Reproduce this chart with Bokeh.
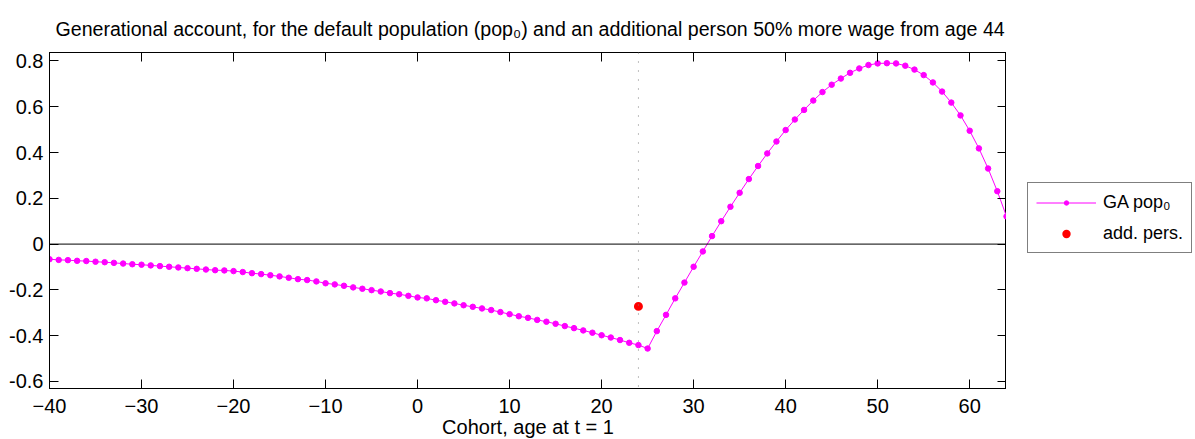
from bokeh.plotting import figure
from bokeh.layouts import row
from bokeh.models import Range1d, FixedTicker, LinearAxis, Span, Legend, LegendItem, Title
from bokeh.embed import file_html
from bokeh.resources import INLINE

# ---------------- data ----------------
cohorts = list(range(-40, 65))
ga_pop0 = [
    -0.066, -0.069, -0.070, -0.073, -0.074, -0.077, -0.079, -0.082, -0.085, -0.088,
    -0.090, -0.093, -0.096, -0.099, -0.102, -0.105, -0.108, -0.111, -0.114, -0.115,
    -0.118, -0.122, -0.127, -0.131, -0.136, -0.141, -0.147, -0.153, -0.157, -0.163,
    -0.171, -0.176, -0.182, -0.189, -0.195, -0.201, -0.207, -0.214, -0.219, -0.226,
    -0.233, -0.237, -0.245, -0.252, -0.259, -0.267, -0.274, -0.281, -0.288, -0.297,
    -0.306, -0.315, -0.322, -0.331, -0.339, -0.348, -0.358, -0.367, -0.377, -0.387,
    -0.398, -0.408, -0.419, -0.431, -0.441, -0.456, -0.380, -0.309, -0.237, -0.168,
    -0.099, -0.032, 0.035, 0.100, 0.163, 0.224, 0.284, 0.341, 0.396, 0.448,
    0.498, 0.544, 0.586, 0.627, 0.664, 0.696, 0.723, 0.748, 0.767, 0.782,
    0.789, 0.790, 0.789, 0.779, 0.762, 0.738, 0.706, 0.666, 0.618, 0.562,
    0.495, 0.418, 0.330, 0.231, 0.121,
]
add_pers_x = [24]
add_pers_y = [-0.272]
marker_cohort = 24

x_ticks = [-40, -30, -20, -10, 0, 10, 20, 30, 40, 50, 60]
x_tick_labels = ["\u221240", "\u221230", "\u221220", "\u221210", "0", "10", "20", "30", "40", "50", "60"]
y_ticks = [-0.6, -0.4, -0.2, 0, 0.2, 0.4, 0.6, 0.8]
y_tick_labels = ["-0.6", "-0.4", "-0.2", "0", "0.2", "0.4", "0.6", "0.8"]

title_text = ("Generational account, for the default population (pop\u2080) "
              "and an additional person 50% more wage from age 44")
x_label = "Cohort, age at t = 1"
legend_labels = ["GA pop\u2080", "add. pers."]

FONT = "Liberation Sans"
MAGENTA = "#ff00ff"
RED = "#ff0000"

p = figure(frame_width=957, frame_height=336, output_backend="svg", toolbar_location=None,
           x_range=Range1d(-40, 64), y_range=Range1d(-0.6306, 0.8367), title=None,
           min_border_left=49, min_border_right=0, min_border_top=52,
           min_border_bottom=48)
p.background_fill_color = "white"
p.border_fill_color = "white"
p.grid.visible = False
p.outline_line_color = "black"
p.outline_line_width = 1
p.outline_line_alpha = 1

def style_axis(ax, ticks, overrides, show_labels):
    ax.ticker = FixedTicker(ticks=ticks)
    ax.major_label_overrides = {t: l for t, l in zip(ticks, overrides)}
    ax.minor_tick_line_color = None
    ax.major_tick_in = 9
    ax.major_tick_out = 0
    ax.major_tick_line_color = "black"
    ax.axis_line_color = "black"
    ax.major_label_text_font = FONT
    ax.major_label_text_color = "black"
    ax.major_label_text_font_size = "20px" if show_labels else "0px"

xa = p.xaxis[0]
style_axis(xa, x_ticks, x_tick_labels, True)
xa.major_label_standoff = 10
xa.axis_label = x_label
xa.axis_label_text_font = FONT
xa.axis_label_text_font_size = "20px"
xa.axis_label_text_font_style = "normal"
xa.axis_label_text_color = "black"
xa.axis_label_standoff = 0

ya = p.yaxis[0]
style_axis(ya, y_ticks, y_tick_labels, True)
ya.major_label_standoff = 6

top = LinearAxis()
style_axis(top, x_ticks, ["" for _ in x_ticks], False)
top.major_label_standoff = 0
p.add_layout(top, "above")
right = LinearAxis()
style_axis(right, y_ticks, ["" for _ in y_ticks], False)
right.major_label_standoff = 0
p.add_layout(right, "right")

title = Title(text=title_text, align="left", offset=6, standoff=26,
              text_font=FONT, text_font_size="19.6px", text_font_style="normal",
              text_color="black")
p.add_layout(title, "above")

p.add_layout(Span(location=0, dimension="width", line_color="black", line_width=1))
p.add_layout(Span(location=marker_cohort, dimension="height", line_color="#808080",
                  line_width=1, line_dash="1 8"))

p.line(cohorts, ga_pop0, line_color=MAGENTA, line_width=1)
p.scatter(cohorts, ga_pop0, marker="circle", size=5.5, fill_color=MAGENTA, line_color=MAGENTA)
p.scatter(add_pers_x, add_pers_y, marker="circle", size=5,
          fill_color=RED, line_color=RED, line_width=4)

# legend panel (separate, so the legend sits outside the axes box)
q = figure(width=189, height=439, output_backend="svg", toolbar_location=None,
           x_range=Range1d(0, 1), y_range=Range1d(0, 1),
           x_axis_location=None, y_axis_location=None, min_border=0)
q.grid.visible = False
q.outline_line_color = None
q.background_fill_color = "white"
q.border_fill_color = "white"
# legend proxies (drawn outside q's visible range)
lq = q.line([-5, -4], [-5, -4], line_color=MAGENTA, line_width=1)
sq = q.scatter([-5], [-5], marker="circle", size=5.5, fill_color=MAGENTA, line_color=MAGENTA)
rq = q.scatter([-5], [-5], marker="circle", size=5, fill_color=RED, line_color=RED, line_width=4)

legend = Legend(items=[LegendItem(label=legend_labels[0], renderers=[lq, sq]),
                       LegendItem(label=legend_labels[1], renderers=[rq])],
                location=(21, 134), orientation="vertical")
legend.label_text_font = FONT
legend.label_text_font_size = "18px"
legend.label_text_color = "black"
legend.glyph_width = 60
legend.glyph_height = 11
legend.label_height = 22
legend.label_standoff = 7
legend.spacing = 9
legend.padding = 8
legend.margin = 0
legend.border_line_color = "black"
legend.border_line_width = 1
legend.background_fill_color = "white"
legend.background_fill_alpha = 1
q.add_layout(legend)

layout = row(p, q, spacing=0)
open("out.html", "w").write(file_html(layout, INLINE))
